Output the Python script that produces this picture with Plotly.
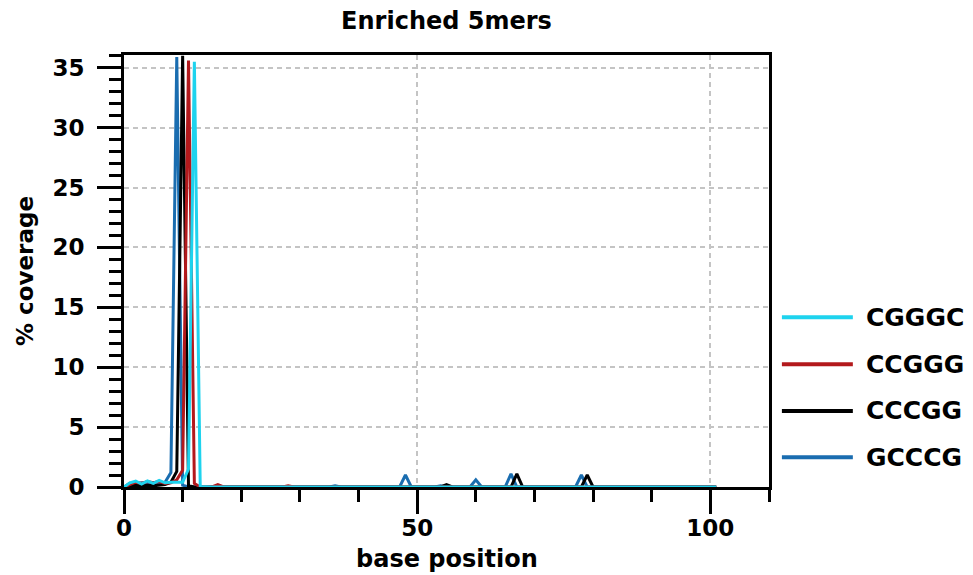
import plotly.graph_objects as go

# base positions along the read
positions = list(range(0, 102))

kmer_names = ["GCCCG", "CCCGG", "CCGGG", "CGGGC"]
kmer_colors = ["#1a6db0", "#000000", "#b3191c", "#1ed3ee"]

# % coverage of each 5mer at each base position
gcccg = [0, 0.30, 0.25, 0.35, 0.30, 0.35, 0.30, 0.40, 1.2, 35.9,
         0.15, 0, 0, 0, 0, 0, 0, 0, 0, 0,
         0, 0, 0, 0, 0, 0, 0, 0, 0, 0,
         0, 0, 0, 0, 0, 0, 0.1, 0, 0, 0,
         0, 0, 0, 0, 0, 0, 0, 0, 1.0, 0,
         0, 0, 0, 0, 0.1, 0, 0, 0, 0, 0,
         0.6, 0, 0, 0, 0, 0, 1.1, 0, 0, 0,
         0, 0, 0, 0, 0, 0, 0, 0, 1.0, 0,
         0, 0, 0, 0, 0, 0, 0, 0, 0, 0,
         0, 0, 0, 0, 0, 0, 0, 0, 0, 0,
         0, 0]
cccgg = [0, 0.05, 0.15, 0.10, 0.15, 0.10, 0.15, 0.20, 0.4, 1.3,
         36.0, 0.1, 0, 0, 0, 0, 0, 0, 0, 0,
         0, 0, 0, 0, 0, 0, 0, 0, 0, 0,
         0, 0, 0, 0, 0, 0, 0, 0, 0, 0,
         0, 0, 0, 0, 0, 0, 0, 0, 0, 0,
         0, 0, 0, 0, 0, 0.2, 0, 0, 0, 0,
         0, 0, 0, 0, 0, 0, 0, 1.1, 0, 0,
         0, 0, 0, 0, 0, 0, 0, 0, 0, 1.0,
         0, 0, 0, 0, 0, 0, 0, 0, 0, 0,
         0, 0, 0, 0, 0, 0, 0, 0, 0, 0,
         0, 0]
ccggg = [0, 0.20, 0.40, 0.30, 0.45, 0.35, 0.45, 0.30, 0.35, 0.6,
         1.4, 35.6, 0.3, 0, 0, 0, 0.2, 0, 0, 0,
         0, 0, 0, 0, 0, 0, 0, 0, 0.1, 0,
         0, 0, 0, 0, 0, 0, 0, 0, 0, 0,
         0, 0, 0, 0, 0, 0, 0, 0, 0, 0,
         0, 0, 0, 0, 0, 0, 0, 0, 0, 0,
         0, 0, 0, 0, 0, 0, 0, 0, 0, 0,
         0, 0, 0, 0, 0, 0, 0, 0, 0, 0,
         0, 0, 0, 0, 0, 0, 0, 0, 0, 0,
         0, 0, 0, 0, 0, 0, 0, 0, 0.05, 0,
         0, 0]
cgggc = [0, 0.35, 0.50, 0.25, 0.50, 0.30, 0.55, 0.35, 0.40, 0.40,
         0.40, 1.5, 35.5, 0.05, 0, 0, 0, 0, 0, 0,
         0, 0, 0, 0, 0, 0, 0, 0, 0, 0,
         0, 0, 0, 0, 0, 0, 0, 0, 0, 0,
         0, 0, 0, 0, 0, 0, 0, 0, 0, 0,
         0, 0, 0, 0, 0, 0, 0, 0, 0, 0,
         0, 0, 0, 0, 0, 0, 0, 0, 0, 0,
         0, 0, 0, 0, 0, 0, 0, 0, 0, 0,
         0, 0, 0, 0, 0, 0, 0, 0, 0, 0,
         0, 0, 0, 0, 0, 0, 0, 0, 0, 0,
         0, 0]
series = [gcccg, cccgg, ccggg, cgggc]

x_ticks = [0, 50, 100]
y_ticks = [0, 5, 10, 15, 20, 25, 30, 35]

FONT = "DejaVu Sans"

fig = go.Figure()
for name, color, values in zip(kmer_names, kmer_colors, series):
    fig.add_trace(go.Scatter(
        x=positions, y=values, mode="lines", name=name,
        line=dict(color=color, width=3), showlegend=False,
    ))

axis_common = dict(
    showline=True, linecolor="black", linewidth=3, mirror=True,
    ticks="outside", ticklen=24, tickwidth=3, tickcolor="black",
    showgrid=True, gridcolor="#c4c4c4", gridwidth=2, griddash="5px,4px",
    zeroline=False, layer="below traces", automargin=False,
    tickfont=dict(family=FONT, size=23, color="black", weight="bold"),
)

fig.update_xaxes(
    range=[0, 110], tickvals=x_ticks, ticklabelstandoff=-6,
    minor=dict(dtick=10, tick0=0, ticks="outside", ticklen=12,
               tickwidth=3, tickcolor="black", showgrid=False),
    **axis_common,
)
fig.update_yaxes(
    range=[0, 36.06], tickvals=y_ticks, ticklabelstandoff=8,
    minor=dict(dtick=1, tick0=0, ticks="outside", ticklen=12,
               tickwidth=3, tickcolor="black", showgrid=False),
    **axis_common,
)

title_font = dict(family=FONT, size=24, color="black", weight="bold")

# axis titles placed in the margins
fig.add_annotation(xref="paper", yref="paper", x=0.5, y=-0.1667,
                   xanchor="center", yanchor="middle", showarrow=False,
                   text="base position", font=title_font)
fig.add_annotation(xref="paper", yref="paper", x=-0.1535, y=0.5,
                   xanchor="center", yanchor="middle", showarrow=False,
                   textangle=-90, text="% coverage",
                   font=dict(title_font, size=23))

# legend drawn beside the plot area, top entry first (reverse of draw order)
legend_rows = [0.393, 0.284, 0.176, 0.069]
for row_y, name, color in zip(legend_rows, kmer_names[::-1], kmer_colors[::-1]):
    fig.add_shape(type="line", xref="paper", yref="paper",
                  x0=1.020, x1=1.130, y0=row_y, y1=row_y,
                  line=dict(color=color, width=4))
    fig.add_annotation(xref="paper", yref="paper", x=1.147, y=row_y,
                       xanchor="left", yanchor="middle", showarrow=False,
                       text=name,
                       font=dict(family=FONT, size=25, color="black", weight="bold"))

fig.update_layout(
    width=973, height=575,
    margin=dict(l=124, r=204, t=55, b=88),
    paper_bgcolor="white", plot_bgcolor="white",
    title=dict(text="Enriched 5mers", x=0.5, xref="paper", y=0.965,
               yanchor="middle", font=title_font),
)

fig.write_html("out.html")
